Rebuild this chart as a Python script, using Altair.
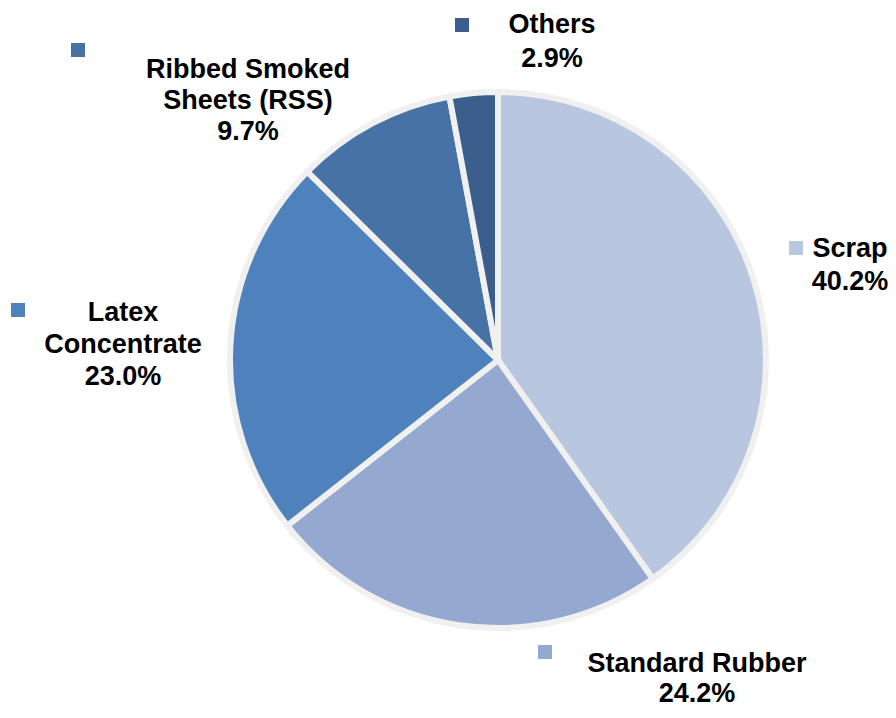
import altair as alt
import pandas as pd

# ---- data ----
categories = ["Scrap", "Standard Rubber", "Latex Concentrate",
              "Ribbed Smoked Sheets (RSS)", "Others"]
values = [40.2, 24.2, 23.0, 9.7, 2.9]
colors = ["#B9C6E0", "#95A8D0", "#4F81BD", "#4672A6", "#3B5E8D"]
label_lines = [["Scrap"], ["Standard Rubber"], ["Latex", "Concentrate"],
               ["Ribbed Smoked", "Sheets (RSS)"], ["Others"]]

# ---- label layout (page pixel anchors) ----
OFF = 8
label_x = [850, 697, 123, 248, 552]
label_y = [249, 664, 313, 70, 25]
line_gap = [33, 30, 32, 31, 34]
key_x = [796, 545, 18, 78, 462]
key_y = [248, 652, 310, 50, 25]

pie_df = pd.DataFrame({
    "category": categories,
    "value": values,
    "order": list(range(len(categories))),
})

text_rows = []
for i, cat in enumerate(categories):
    lines = label_lines[i] + [f"{values[i]:.1f}%"]
    for j, t in enumerate(lines):
        text_rows.append({"category": cat, "text": t,
                          "x": label_x[i] - OFF,
                          "y": label_y[i] - OFF + j * line_gap[i]})
text_df = pd.DataFrame(text_rows)

key_df = pd.DataFrame({
    "category": categories,
    "x": [v - OFF for v in key_x],
    "y": [v - OFF for v in key_y],
})

color_scale = alt.Scale(domain=categories, range=colors)

pie = alt.Chart(pie_df).mark_arc(
    radius=268, x=498 - OFF, y=360 - OFF,
    stroke="#F0F0F0", strokeWidth=6
).encode(
    theta=alt.Theta("value:Q", stack=True),
    color=alt.Color("category:N", scale=color_scale, legend=None),
    order=alt.Order("order:Q"),
)

keys = alt.Chart(key_df).mark_square(size=196, opacity=1, filled=True).encode(
    x=alt.X("x:Q", scale=None),
    y=alt.Y("y:Q", scale=None),
    color=alt.Color("category:N", scale=color_scale, legend=None),
)

labels = alt.Chart(text_df).mark_text(
    font="Liberation Sans", fontSize=27, fontWeight="bold",
    color="#000000", align="center", baseline="middle"
).encode(
    x=alt.X("x:Q", scale=None),
    y=alt.Y("y:Q", scale=None),
    text="text:N",
)

chart = alt.layer(pie, keys, labels).properties(
    width=880, height=702, padding=0,
    autosize=alt.AutoSizeParams(type="fit", contains="padding"),
).configure_view(stroke=None)

chart.save("out.html", embed_options={"renderer": "svg", "actions": False})
